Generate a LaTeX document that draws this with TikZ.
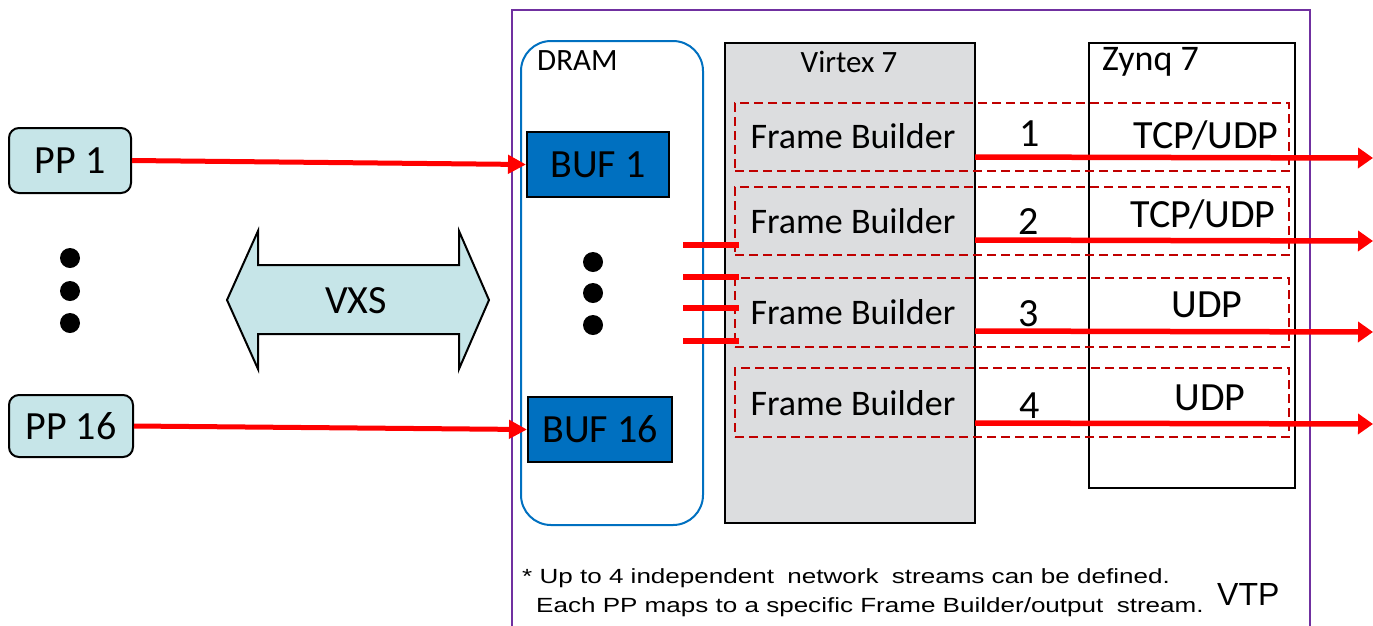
\documentclass[tikz,border=0pt]{standalone}
\usepackage{fontspec}
\setmainfont{Carlito}
\newfontfamily\notefont[FakeStretch=1.27]{Liberation Sans}
\newfontfamily\tagfont{Liberation Sans}
\usetikzlibrary{arrows.meta,calc}

\definecolor{vtpviolet}{RGB}{112,48,160}
\definecolor{dramblue}{RGB}{0,112,192}
\definecolor{virtexgray}{RGB}{220,221,223}
\definecolor{zonered}{RGB}{192,0,0}
\definecolor{linkred}{RGB}{255,0,0}
\definecolor{ppcyan}{RGB}{198,229,232}

\tikzset{
  txt/.style={font=\fontsize{#1}{#1}\selectfont, inner sep=0pt},
  ppbox/.style={draw=black, line width=2pt, fill=ppcyan, rounded corners=10pt,
    inner sep=0pt, txt=40},
  bufbox/.style={draw=black, line width=2pt, fill=dramblue, inner sep=0pt, txt=40},
  dramstyle/.style={draw=dramblue, line width=2pt, rounded corners=30pt, inner sep=0pt},
  chipbox/.style={draw=black, line width=2pt, inner sep=0pt},
  fbzone/.style={draw=zonered, line width=2pt, dash pattern=on 9pt off 5pt, inner sep=0pt},
  inlink/.style={draw=linkred, line width=5pt, -{Triangle[length=18pt,width=18pt]}},
  outlink/.style={draw=linkred, line width=5.5pt, -{Triangle[length=15pt,width=20pt]}},
  stub/.style={draw=linkred, line width=6pt},
  notetext/.style={font=\notefont\fontsize{20.5}{22}\selectfont, inner sep=0pt, anchor=base west},
}

\begin{document}
\begin{tikzpicture}[x=1pt,y=-1pt]
\useasboundingbox (0,0) rectangle (1373,625);

% VTP board outline (runs off the bottom)
\draw[vtpviolet, line width=2pt] (512,626) -- (512,10) -- (1310,10) -- (1310,626);

% DRAM with its buffers
\node[dramstyle, minimum width=182pt, minimum height=484pt] (dram) at (612,283) {};
\node[txt=31, anchor=base west] (dramlbl) at (537,70) {DRAM};
\node[bufbox, minimum width=142pt, minimum height=65pt] (buf1) at (598,164.5) {BUF 1};
\node[bufbox, minimum width=144pt, minimum height=65pt] (buf16) at (600,429.5) {BUF 16};
\fill (593,262) circle (10pt) (593,293) circle (10pt) (593,325) circle (10pt);

% FPGAs
\node[chipbox, fill=virtexgray, minimum width=250pt, minimum height=480pt] (virtex) at (850,283) {};
\node[txt=31, anchor=base] (virtexlbl) at (849,72) {Virtex 7};
\node[chipbox, fill=white, minimum width=206pt, minimum height=445pt] (zynq) at (1192,265.5) {};
\node[txt=36, anchor=base west] (zynqlbl) at (1102,70) {Zynq 7};

% Stream zones spanning both FPGAs
\node[fbzone, minimum width=554pt, minimum height=68pt] (zone1) at (1012,137) {};
\node[fbzone, minimum width=554pt, minimum height=68pt] (zone2) at (1012,221) {};
\node[fbzone, minimum width=554pt, minimum height=69pt] (zone3) at (1012,312.5) {};
\node[fbzone, minimum width=554pt, minimum height=69pt] (zone4) at (1012,402.5) {};

% Frame builders
\node[txt=36, anchor=base] (fb1) at (853,148.5) {Frame Builder};
\node[txt=36, anchor=base] (fb2) at (853,233.5) {Frame Builder};
\node[txt=36, anchor=base] (fb3) at (853,324.5) {Frame Builder};
\node[txt=36, anchor=base] (fb4) at (853,415.5) {Frame Builder};

% Stream numbers and protocols
\node[txt=40, anchor=base] (n1) at (1030,146.5) {1};
\node[txt=40, anchor=base] (n2) at (1029,234.5) {2};
\node[txt=40, anchor=base] (n3) at (1029,326) {3};
\node[txt=40, anchor=base] (n4) at (1030,418) {4};
\node[txt=40, anchor=base] (p1) at (1206,148) {TCP/UDP};
\node[txt=40, anchor=base] (p2) at (1203,227) {TCP/UDP};
\node[txt=40, anchor=base] (p3) at (1207,317) {UDP};
\node[txt=40, anchor=base] (p4) at (1210,410) {UDP};

% DRAM to frame builder links
\coordinate (ra1) at (683,245);  \coordinate (rb1) at (739,245);
\coordinate (ra2) at (683,277);  \coordinate (rb2) at (739,277);
\coordinate (ra3) at (683,308);  \coordinate (rb3) at (739,308);
\coordinate (ra4) at (683,341);  \coordinate (rb4) at (739,341);
\draw[stub] (ra1) -- (rb1);
\draw[stub] (ra2) -- (rb2);
\draw[stub] (ra3) -- (rb3);
\draw[stub] (ra4) -- (rb4);

% Output streams
\coordinate (os1) at (975,157);  \coordinate (oe1) at (1373,158);
\coordinate (os2) at (975,240);  \coordinate (oe2) at (1373,241);
\coordinate (os3) at (975,331);  \coordinate (oe3) at (1373,332);
\coordinate (os4) at (975,423);  \coordinate (oe4) at (1373,424);
\draw[outlink] (os1) -- (oe1);
\draw[outlink] (os2) -- (oe2);
\draw[outlink] (os3) -- (oe3);
\draw[outlink] (os4) -- (oe4);

% Processing modules
\node[ppbox, minimum width=122pt, minimum height=65pt] (pp1) at (70,160.5) {PP 1};
\node[ppbox, minimum width=124pt, minimum height=62pt] (pp16) at (71,426) {PP 16};
\fill (70,258) circle (10pt) (70,291) circle (10pt) (70,323) circle (10pt);
\draw[inlink] (pp1.east) -- (buf1.west);
\draw[inlink] (pp16.east) -- (buf16.west);

% VXS backplane
\draw[fill=ppcyan, line width=2pt, line join=miter]
  (227,300) -- (258,231) -- (258,265) -- (459,265) -- (459,231) -- (489,300)
  -- (459,369) -- (459,334) -- (258,334) -- (258,369) -- cycle;
\node[txt=40] (vxs) at (356,301) {VXS};

% Notes
\node[notetext] (note1) at (522,583) {* Up to 4 independent\hspace{0.3em} network\hspace{0.3em} streams can be defined.};
\node[notetext] (note2) at (536,612) {Each PP maps to a specific Frame Builder/output\hspace{0.3em} stream.};
\node[font=\tagfont\fontsize{32}{32}\selectfont, inner sep=0pt, anchor=base west] (vtp) at (1217,605) {VTP};
\end{tikzpicture}
\end{document}
